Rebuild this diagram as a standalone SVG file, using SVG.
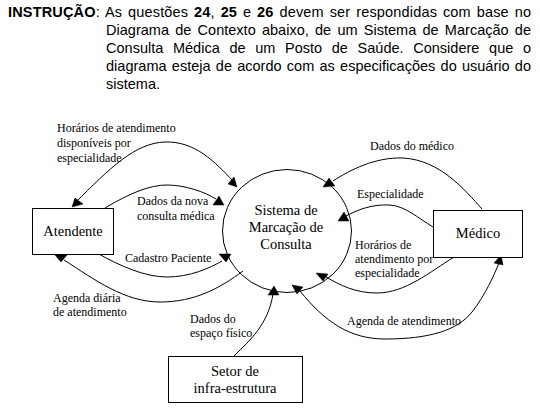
<svg xmlns="http://www.w3.org/2000/svg" width="540" height="413" viewBox="0 0 540 413">
<style>
.title{font-family:"Liberation Sans",Arial,sans-serif;font-size:14.5px;fill:#000}
.b{font-weight:bold}
.node{fill:#fff;stroke:#000;stroke-width:1}
.nt{font-family:"Liberation Serif","Times New Roman",serif;font-size:14.5px;fill:#000;text-anchor:middle}
.flow{fill:none;stroke:#000;stroke-width:1}
.ah{fill:#000;stroke:#000;stroke-width:0.5}
.lbl{font-family:"Liberation Serif","Times New Roman",serif;font-size:12px;fill:#000}
</style>
<rect width="540" height="413" fill="#fff"/>
<g id="instructions">
<text class="title" x="8" y="17" word-spacing="1.7" textLength="523" lengthAdjust="spacing"><tspan class="b">INSTRUÇÃO</tspan>: As questões <tspan class="b">24</tspan>, <tspan class="b">25</tspan> e <tspan class="b">26</tspan> devem ser respondidas com base no</text>
<text class="title" x="106" y="35" word-spacing="2.2" textLength="425" lengthAdjust="spacing">Diagrama de Contexto abaixo, de um Sistema de Marcação de</text>
<text class="title" x="106" y="53" word-spacing="5.6" textLength="425" lengthAdjust="spacing">Consulta Médica de um Posto de Saúde. Considere que o</text>
<text class="title" x="106" y="71" word-spacing="1.2" textLength="425" lengthAdjust="spacing">diagrama esteja de acordo com as especificações do usuário do</text>
<text class="title" x="106" y="89">sistema.</text>
</g>
<g id="connectors">
<path class="flow" d="M75,203 C110,168 135,143 165,142 C195,141 215,162 233,181"/>
<path class="flow" d="M105,208 C130,193 150,185 167,185 C185,185 205,192 216,199"/>
<path class="flow" d="M97,253 C120,266 145,277 167,277 C190,277 210,268 222,261"/>
<path class="flow" d="M64,260 C95,280 125,302 160,302 C195,302 220,288 243,271"/>
<path class="flow" d="M234,356 C250,340 268,325 273,294"/>
<path class="flow" d="M482,209 C465,190 440,160 403,158 C375,157 350,170 333,181"/>
<path class="flow" d="M433,227 C418,218 405,206 390,205 C372,204 357,210 346,216"/>
<path class="flow" d="M454,257 C430,272 405,293 377,293 C355,293 340,285 326,277"/>
<path class="flow" d="M300,291 C325,322 350,339 385,339 C430,339 458,330 472,312 C486,294 494,275 499,263"/>
<polygon class="ah" points="72,207 75,198 83,204"/>
<polygon class="ah" points="237,187 228,184 234,177"/>
<polygon class="ah" points="219,196 213,205 224,205"/>
<polygon class="ah" points="219,254 231,254 226,262"/>
<polygon class="ah" points="55,255 67,255 61,262"/>
<polygon class="ah" points="274,286 268,295 279,295"/>
<polygon class="ah" points="292,285 303,287 297,294"/>
<polygon class="ah" points="329,178 323,187 335,186"/>
<polygon class="ah" points="344,212 338,221 349,221"/>
<polygon class="ah" points="316,273 328,274 323,281"/>
<polygon class="ah" points="501,255 494,263 503,265"/>
<text class="lbl" x="57" y="132">Horários de atendimento</text>
<text class="lbl" x="57" y="147">disponíveis por</text>
<text class="lbl" x="57" y="162">especialidade</text>
<text class="lbl" x="137" y="205">Dados da nova</text>
<text class="lbl" x="137" y="220">consulta médica</text>
<text class="lbl" x="125" y="262">Cadastro Paciente</text>
<text class="lbl" x="53" y="302">Agenda diária</text>
<text class="lbl" x="53" y="316">de atendimento</text>
<text class="lbl" x="190" y="323">Dados do</text>
<text class="lbl" x="190" y="337">espaço físico</text>
<text class="lbl" x="370" y="150">Dados do médico</text>
<text class="lbl" x="357" y="198">Especialidade</text>
<text class="lbl" x="355" y="249">Horários de</text>
<text class="lbl" x="355" y="263">atendimento por</text>
<text class="lbl" x="355" y="277">especialidade</text>
<text class="lbl" x="347" y="325">Agenda de atendimento</text>
</g>
<g id="node-sistema">
<ellipse class="node" style="fill:none" cx="287" cy="231" rx="64.5" ry="61.5"/>
<text class="nt" x="286" y="215">Sistema de</text>
<text class="nt" x="286" y="232">Marcação de</text>
<text class="nt" x="286" y="249">Consulta</text>
</g>
<g id="node-atendente">
<rect class="node" x="32.5" y="208.5" width="81" height="46"/>
<text class="nt" x="73" y="236">Atendente</text>
</g>
<g id="node-medico">
<rect class="node" x="433.5" y="210.5" width="89" height="47"/>
<text class="nt" x="478" y="238">Médico</text>
</g>
<g id="node-setor">
<rect class="node" x="168.5" y="356.5" width="134" height="46"/>
<text class="nt" x="235" y="376">Setor de</text>
<text class="nt" x="235" y="393">infra-estrutura</text>
</g>
</svg>
